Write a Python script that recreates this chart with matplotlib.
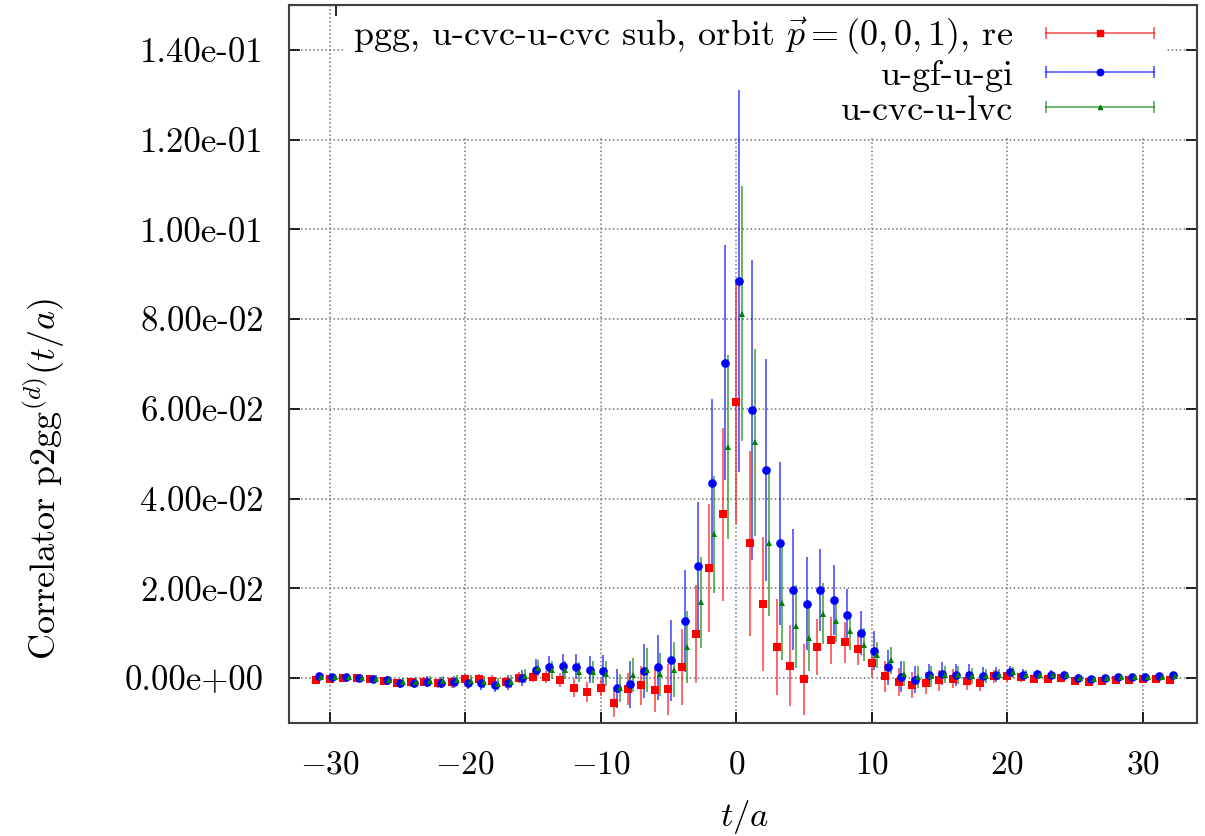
import matplotlib
matplotlib.use("Agg")
import matplotlib.pyplot as plt
import numpy as np
from matplotlib.container import ErrorbarContainer
from matplotlib.legend_handler import HandlerBase
from matplotlib.lines import Line2D
from matplotlib.ticker import FuncFormatter

plt.rcParams['font.family'] = 'serif'
plt.rcParams['font.serif'] = ['cmr10']
plt.rcParams['mathtext.fontset'] = 'cm'
plt.rcParams['axes.formatter.use_mathtext'] = True
plt.rcParams['font.size'] = 24

# time slices t/a
t = np.arange(-31, 33)

# pgg, u-cvc-u-cvc sub (red)
red_val = [-0.0004, -0.0001, 0.0001, 0.0000, -0.0003, -0.0007, -0.0010, -0.0009,
           -0.0008, -0.0012, -0.0009, -0.0003, -0.0002, -0.0006, -0.0009, 0.0001,
           0.0003, 0.0003, -0.0004, -0.0022, -0.0031, -0.0022, -0.0055, -0.0025,
           -0.0016, -0.0027, -0.0025, 0.0024, 0.0098, 0.0245, 0.0365, 0.0616,
           0.0300, 0.0165, 0.0069, 0.0028, -0.0003, 0.0070, 0.0084, 0.0080,
           0.0065, 0.0033, 0.0004, -0.0009, -0.0016, -0.0011, -0.0005, -0.0001,
           -0.0006, -0.0010, 0.0004, 0.0004, 0.0002, -0.0003, -0.0003, 0.0000,
           -0.0007, -0.0008, -0.0007, -0.0005, -0.0005, -0.0001, -0.0003, -0.0004]
red_err = [0.0005, 0.0005, 0.0005, 0.0005, 0.0005, 0.0008, 0.0009, 0.0010,
           0.0010, 0.0011, 0.0012, 0.0012, 0.0012, 0.0012, 0.0012, 0.0012,
           0.0012, 0.0013, 0.0016, 0.0021, 0.0023, 0.0019, 0.0032, 0.0036,
           0.0044, 0.0048, 0.0057, 0.0085, 0.0110, 0.0143, 0.0193, 0.0273,
           0.0206, 0.0150, 0.0107, 0.0090, 0.0080, 0.0062, 0.0052, 0.0046,
           0.0036, 0.0031, 0.0034, 0.0032, 0.0029, 0.0024, 0.0023, 0.0022,
           0.0020, 0.0018, 0.0015, 0.0012, 0.0010, 0.0008, 0.0007, 0.0006,
           0.0006, 0.0005, 0.0005, 0.0005, 0.0005, 0.0005, 0.0005, 0.0005]

# u-gf-u-gi (blue)
blue_val = [0.0005, 0.0002, 0.0002, 0.0001, -0.0001, -0.0004, -0.0012, -0.0010,
            -0.0008, -0.0010, -0.0008, -0.0011, -0.0012, -0.0016, -0.0010, 0.0001,
            0.0019, 0.0025, 0.0028, 0.0025, 0.0019, 0.0016, -0.0023, -0.0014,
            0.0016, 0.0024, 0.0040, 0.0127, 0.0250, 0.0434, 0.0703, 0.0885,
            0.0597, 0.0463, 0.0300, 0.0197, 0.0166, 0.0197, 0.0173, 0.0140,
            0.0100, 0.0061, 0.0024, 0.0003, -0.0004, 0.0007, 0.0010, 0.0007,
            0.0008, 0.0004, 0.0008, 0.0013, 0.0008, 0.0009, 0.0008, 0.0007,
            0.0001, -0.0002, 0.0001, 0.0003, 0.0002, 0.0003, 0.0004, 0.0006]
blue_err = [0.0006, 0.0006, 0.0006, 0.0007, 0.0008, 0.0009, 0.0010, 0.0011,
            0.0012, 0.0013, 0.0013, 0.0014, 0.0014, 0.0015, 0.0016, 0.0018,
            0.0023, 0.0024, 0.0026, 0.0028, 0.0031, 0.0035, 0.0044, 0.0052,
            0.0060, 0.0073, 0.0090, 0.0113, 0.0142, 0.0188, 0.0262, 0.0425,
            0.0334, 0.0247, 0.0182, 0.0135, 0.0103, 0.0091, 0.0078, 0.0059,
            0.0049, 0.0043, 0.0039, 0.0035, 0.0030, 0.0025, 0.0025, 0.0024,
            0.0023, 0.0020, 0.0016, 0.0014, 0.0012, 0.0010, 0.0009, 0.0008,
            0.0008, 0.0007, 0.0007, 0.0006, 0.0006, 0.0006, 0.0006, 0.0006]

# u-cvc-u-lvc (green)
green_val = [0.0003, 0.0002, 0.0002, 0.0001, -0.0001, -0.0004, -0.0008, -0.0008,
             -0.0006, -0.0006, -0.0004, -0.0006, -0.0008, -0.0013, -0.0008, 0.0004,
             0.0022, 0.0018, 0.0018, 0.0014, 0.0014, 0.0010, -0.0022, 0.0007,
             0.0018, 0.0009, 0.0019, 0.0070, 0.0169, 0.0320, 0.0516, 0.0812,
             0.0525, 0.0300, 0.0167, 0.0115, 0.0089, 0.0143, 0.0128, 0.0104,
             0.0074, 0.0051, 0.0040, 0.0010, 0.0003, 0.0004, 0.0008, 0.0007,
             0.0005, 0.0005, 0.0008, 0.0013, 0.0007, 0.0007, 0.0006, 0.0006,
             0.0001, -0.0001, 0.0001, 0.0002, 0.0002, 0.0002, 0.0003, 0.0004]
green_err = [0.0005, 0.0005, 0.0005, 0.0006, 0.0007, 0.0008, 0.0009, 0.0010,
             0.0010, 0.0011, 0.0012, 0.0012, 0.0013, 0.0013, 0.0014, 0.0016,
             0.0018, 0.0019, 0.0020, 0.0022, 0.0025, 0.0028, 0.0032, 0.0037,
             0.0050, 0.0048, 0.0062, 0.0080, 0.0101, 0.0131, 0.0205, 0.0284,
             0.0208, 0.0162, 0.0127, 0.0093, 0.0073, 0.0068, 0.0048, 0.0042,
             0.0037, 0.0029, 0.0030, 0.0027, 0.0025, 0.0023, 0.0020, 0.0020,
             0.0018, 0.0015, 0.0013, 0.0012, 0.0010, 0.0009, 0.0008, 0.0007,
             0.0007, 0.0006, 0.0006, 0.0005, 0.0005, 0.0005, 0.0005, 0.0005]

labels = [r'pgg, u-cvc-u-cvc sub, orbit $\vec{p}=(0,0,1)$, re',
          'u-gf-u-gi', 'u-cvc-u-lvc']


class HBarHandler(HandlerBase):
    # gnuplot-like key sample: horizontal bar with caps and the point in the middle
    def create_artists(self, legend, orig_handle, xdescent, ydescent,
                       width, height, fontsize, trans):
        ln = orig_handle.lines[0]
        col = ln.get_color()
        y = height / 2 - ydescent
        x0, x1 = -xdescent, width - xdescent
        bar = Line2D([x0, x1], [y, y], color=col, alpha=0.6, lw=1.3)
        caps = Line2D([x0, x1], [y, y], ls='none', marker='|', ms=9,
                      mew=1.3, color=col, alpha=0.6)
        pt = Line2D([(x0 + x1) / 2], [y], ls='none', marker=ln.get_marker(),
                    ms=ln.get_markersize() * 0.75, color=col)
        for a in (bar, caps, pt):
            a.set_transform(trans)
        return [bar, caps, pt]


fig = plt.figure(figsize=(12.05, 8.36), dpi=100)
ax = fig.add_axes([0.2398, 0.1352, 0.7535, 0.8589])

series = [(t, red_val, red_err, 'red', 's', 6.2),
          (t + 0.2, blue_val, blue_err, 'blue', 'o', 6.2),
          (t + 0.4, green_val, green_err, 'green', '^', 4)]
conts = []
for (x, v, e, c, m, ms), lab in zip(series, labels):
    ecol = matplotlib.colors.to_rgba(c, 0.6)
    cont = ax.errorbar(x, v, yerr=e, fmt=m, color=c, ms=ms, mew=0,
                       ecolor=ecol, elinewidth=1.4, capsize=3, capthick=1.4,
                       label=lab)
    conts.append(cont)

ax.set_xlim(-33, 34)
ax.set_ylim(-0.01, 0.15)
ax.set_xticks([-30, -20, -10, 0, 10, 20, 30])
ax.set_yticks(np.arange(0, 0.141, 0.02))
ax.yaxis.set_major_formatter(FuncFormatter(lambda v, p: '%.2e' % v))
ax.grid(True, ls=':', color='0.45', lw=1.1)
ax.set_axisbelow(True)
ax.tick_params(direction='in', length=8, width=1.2, top=False, right=True)
ax.tick_params(axis='y', pad=18, labelsize=25)
ax.tick_params(axis='x', pad=20)
for s in ax.spines.values():
    s.set_color('0.25')
    s.set_linewidth(1.5)

top = ax.secondary_xaxis('top')
top.set_xticks(-29.5 + 6.06 * np.arange(11))
top.set_xticklabels([])
top.tick_params(direction='in', length=8, width=1.2)

ax.set_xlabel(r'$t/a$', fontsize=25)
ax.set_ylabel(r'Correlator p2gg$^{(d)}(t/a)$', fontsize=26)
ax.xaxis.set_label_coords(0.502, -0.105)
ax.yaxis.set_label_coords(-0.245, 0.34)

leg = ax.legend(handles=conts, labels=labels, loc='upper right',
                bbox_to_anchor=(0.965, 1.0), borderaxespad=0, borderpad=0.3,
                markerfirst=False, handlelength=3.0, handletextpad=0.9,
                labelspacing=0.08, frameon=True, fancybox=False,
                edgecolor='none', facecolor='white', framealpha=1,
                fontsize=26,
                handler_map={ErrorbarContainer: HBarHandler()})
leg.set_zorder(1)

fig.savefig('out.png', dpi=100)
